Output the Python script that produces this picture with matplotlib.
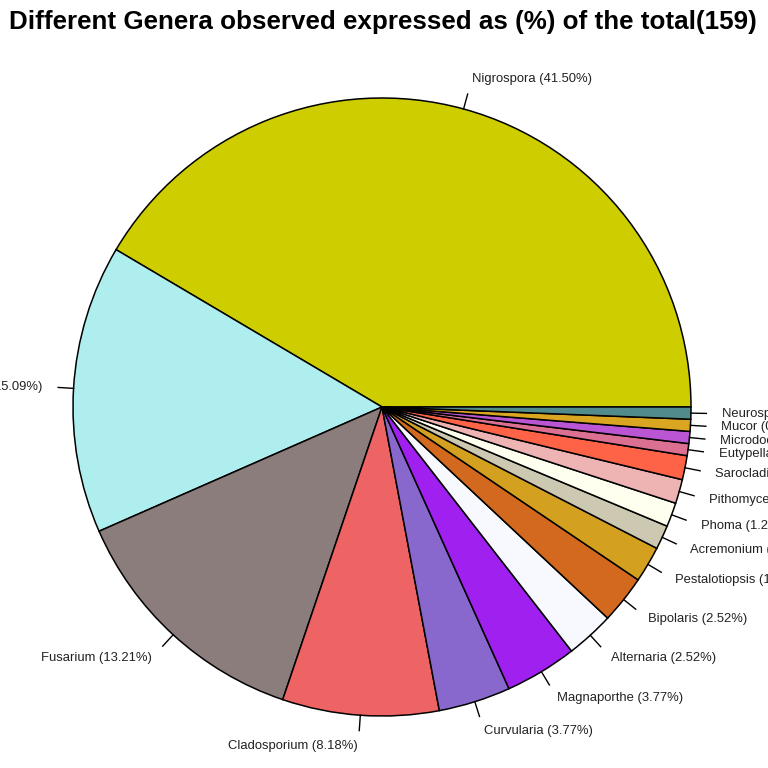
import numpy as np
import matplotlib
matplotlib.use("Agg")
import matplotlib.pyplot as plt

genera = ["Nigrospora", "Aspergillus", "Fusarium", "Cladosporium", "Curvularia",
          "Magnaporthe", "Alternaria", "Bipolaris", "Pestalotiopsis", "Acremonium",
          "Phoma", "Pithomyces", "Sarocladium", "Eutypella", "Microdochium",
          "Mucor", "Neurospora"]
percent = [41.50, 15.09, 13.21, 8.18, 3.77, 3.77, 2.52, 2.52, 1.89, 1.26,
           1.26, 1.26, 1.26, 0.63, 0.63, 0.63, 0.63]
colors = ["#CDCD00", "#AEEEEE", "#8B7D7B", "#EE6363", "#8968CD", "#A020F0",
          "#F8F8FF", "#D2691E", "#D4A020", "#CDC8B1", "#FFFFF0", "#EEB4B4",
          "#FF6347", "#DB7093", "#BA55D3", "#DAA520", "#528B8B"]
title = "Different Genera observed expressed as (%) of the total(159)"

plt.rcParams['font.family'] = ['Liberation Sans', 'DejaVu Sans']

W = 768
fig = plt.figure(figsize=(7.68, 7.68), dpi=100)
ax = fig.add_axes([0, 0, 1, 1])
cx, cy, R = 382, 407, 309

labels = [f"{g} ({p:.2f}%)" for g, p in zip(genera, percent)]
wedges, texts = ax.pie(percent, labels=labels, colors=colors, startangle=0,
                       counterclock=True, radius=1.0, labeldistance=1.1,
                       normalize=True,
                       wedgeprops=dict(edgecolor='black', linewidth=1.1),
                       textprops=dict(fontsize=9.4, color='#222222'))
ax.set_xlim(-cx / R, (W - cx) / R)
ax.set_ylim(-(W - cy) / R, cy / R)
ax.set_aspect('auto')
ax.axis('off')

for w in wedges:
    ang = np.deg2rad((w.theta1 + w.theta2) / 2)
    ax.plot([np.cos(ang), 1.05 * np.cos(ang)], [np.sin(ang), 1.05 * np.sin(ang)],
            color='black', lw=1.0, clip_on=False)

fig.text(383 / W, 1 - 22 / W, title, ha='center', va='center',
         fontsize=18.7, fontweight='bold')

fig.savefig("out.png", dpi=100)
